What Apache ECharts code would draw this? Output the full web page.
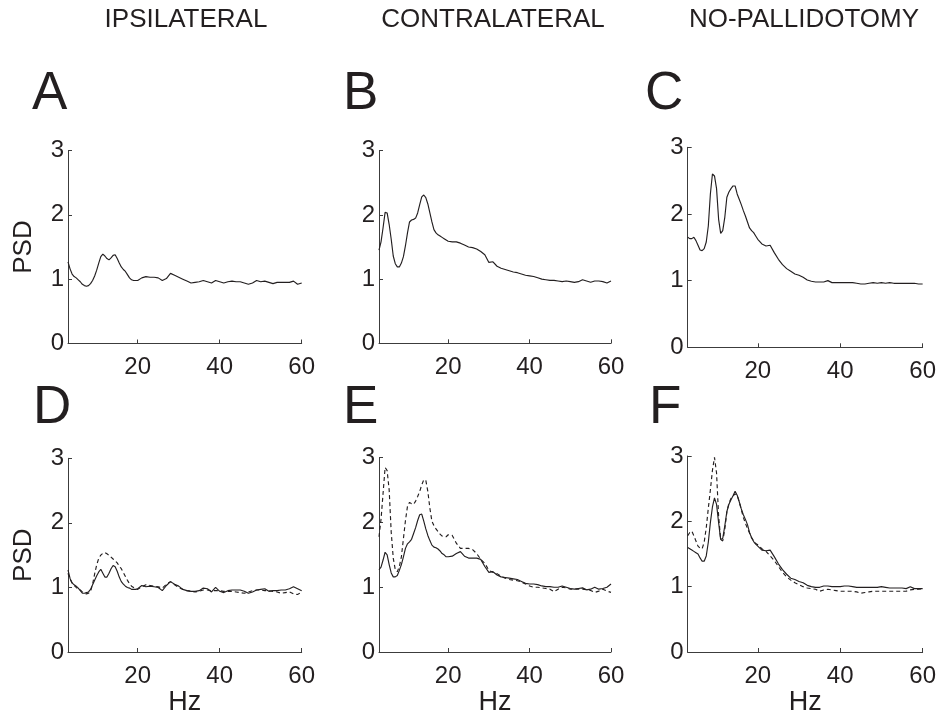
<!DOCTYPE html>
<html>
<head>
<meta charset="utf-8">
<script src="https://cdn.jsdelivr.net/npm/echarts@6/dist/echarts.min.js"></script>
<style>
html,body{margin:0;padding:0;background:#fff;}
#chart{width:939px;height:717px;}
</style>
</head>
<body>
<div id="chart"></div>
<script>
// Frequency grid (Hz)
const hz = [3,3.5,4,4.5,5,5.5,6,6.5,7,7.5,8,8.5,9,9.5,10,10.5,11,11.5,12,12.5,13,13.5,14,14.5,15,15.5,16,16.5,17,17.5,18,18.5,19,19.5,20,
  21,22,23,24,25,26,27,28,29,30,31,32,33,34,35,36,37,38,39,40,41,42,43,44,45,46,47,48,49,50,51,52,53,54,55,56,57,58,59,60];

const columnTitles = ['IPSILATERAL', 'CONTRALATERAL', 'NO-PALLIDOTOMY'];
const panelLetters = ['A', 'B', 'C', 'D', 'E', 'F'];
const xTicks = [20, 40, 60];
const yTicks = [0, 1, 2, 3];

// Panel A (ipsilateral)
const psdA = [1.27,1.16,1.08,1.04,1.02,0.99,0.96,0.92,0.90,0.89,0.90,0.93,0.98,1.05,1.14,1.25,1.35,1.39,1.36,1.32,1.30,1.33,1.37,1.38,1.32,1.25,1.19,1.15,1.12,1.07,1.02,0.99,0.98,0.98,0.98,
  1.02,1.04,1.03,1.03,1.02,0.98,1.01,1.09,1.06,1.03,1.00,0.97,0.94,0.95,0.96,0.98,0.96,0.94,0.98,0.96,0.94,0.96,0.97,0.96,0.96,0.94,0.92,0.94,0.98,0.96,0.97,0.95,0.93,0.95,0.95,0.95,0.95,0.97,0.92,0.94];
// Panel B (contralateral)
const psdB = [1.45,1.58,1.80,2.04,2.03,1.85,1.62,1.36,1.24,1.19,1.19,1.25,1.35,1.52,1.72,1.89,1.92,1.93,1.95,2.03,2.16,2.28,2.31,2.27,2.17,2.03,1.89,1.77,1.72,1.69,1.67,1.65,1.63,1.61,1.59,
  1.58,1.58,1.56,1.53,1.50,1.49,1.47,1.43,1.38,1.26,1.27,1.20,1.17,1.15,1.13,1.11,1.10,1.08,1.06,1.05,1.04,1.02,1.00,0.99,0.98,0.98,0.97,0.96,0.97,0.96,0.95,0.96,0.99,0.97,0.95,0.97,0.97,0.96,0.94,0.97];
// Panel C (no-pallidotomy)
const psdC = [1.65,1.63,1.63,1.65,1.60,1.53,1.46,1.45,1.48,1.58,1.82,2.30,2.60,2.57,2.38,1.92,1.71,1.75,1.95,2.25,2.33,2.38,2.42,2.42,2.30,2.22,2.14,2.05,1.97,1.88,1.79,1.75,1.72,1.67,1.62,
  1.55,1.52,1.53,1.42,1.32,1.24,1.18,1.14,1.10,1.08,1.05,1.01,0.99,0.98,0.98,0.98,1.00,0.97,0.97,0.97,0.97,0.97,0.97,0.96,0.95,0.95,0.96,0.97,0.96,0.97,0.96,0.97,0.96,0.96,0.96,0.96,0.96,0.96,0.95,0.95];
// Panel D (ipsilateral, two conditions)
const psdDSolid = [1.27,1.14,1.07,1.04,1.02,0.99,0.95,0.91,0.91,0.92,0.93,0.97,1.04,1.11,1.18,1.24,1.28,1.22,1.16,1.16,1.22,1.29,1.34,1.32,1.25,1.16,1.09,1.05,1.02,1.00,0.99,0.97,0.97,0.97,0.98,
  1.03,1.01,1.02,1.01,1.00,0.95,1.03,1.09,1.05,1.02,0.97,0.95,0.94,0.94,0.95,0.99,0.98,0.93,1.00,0.94,0.92,0.95,0.96,0.96,0.96,0.94,0.91,0.93,0.96,0.97,0.98,0.94,0.95,0.95,0.96,0.96,0.98,1.01,0.98,0.95];
const psdDDashed = [1.22,1.13,1.07,1.03,1.00,0.98,0.96,0.93,0.91,0.90,0.91,0.94,1.05,1.21,1.35,1.45,1.50,1.53,1.54,1.52,1.50,1.47,1.44,1.41,1.38,1.33,1.29,1.23,1.17,1.11,1.06,1.02,1.00,0.98,0.97,
  1.01,1.04,1.03,1.02,1.01,0.99,1.05,1.09,1.04,1.00,0.97,0.95,0.94,0.93,0.94,0.96,0.96,0.95,0.95,0.95,0.94,0.94,0.94,0.93,0.92,0.91,0.93,0.95,0.96,0.96,0.95,0.95,0.94,0.93,0.91,0.92,0.93,0.90,0.89,0.93];
// Panel E (contralateral, two conditions)
const psdESolid = [1.27,1.31,1.42,1.54,1.50,1.35,1.22,1.16,1.16,1.18,1.26,1.35,1.47,1.60,1.67,1.70,1.74,1.83,1.92,2.03,2.12,2.13,2.02,1.90,1.80,1.72,1.65,1.62,1.61,1.59,1.56,1.52,1.50,1.47,1.47,
  1.48,1.52,1.55,1.48,1.45,1.45,1.45,1.43,1.32,1.23,1.24,1.19,1.16,1.15,1.14,1.13,1.12,1.09,1.06,1.05,1.05,1.04,1.02,1.01,1.01,1.00,1.00,1.02,1.00,0.98,0.97,0.98,0.99,0.96,0.97,1.00,0.97,0.98,1.00,1.05];
const psdEDashed = [1.78,2.05,2.45,2.85,2.80,2.50,1.85,1.45,1.27,1.24,1.32,1.47,1.75,2.03,2.25,2.31,2.29,2.28,2.33,2.40,2.48,2.58,2.66,2.65,2.48,2.22,2.02,1.95,1.90,1.86,1.82,1.79,1.78,1.78,1.81,
  1.80,1.68,1.60,1.60,1.60,1.58,1.52,1.43,1.37,1.26,1.23,1.21,1.17,1.14,1.12,1.11,1.10,1.08,1.05,1.02,1.00,1.00,0.99,0.98,0.97,0.93,0.97,1.00,0.99,0.97,0.97,0.97,0.97,0.96,0.95,0.92,0.94,0.97,0.94,0.92];
// Panel F (no-pallidotomy, two conditions)
const psdFSolid = [1.60,1.58,1.56,1.54,1.52,1.50,1.44,1.39,1.39,1.47,1.68,1.98,2.22,2.36,2.26,1.98,1.72,1.74,1.93,2.15,2.26,2.33,2.39,2.46,2.40,2.30,2.19,2.10,2.03,1.95,1.83,1.75,1.69,1.65,1.62,
  1.56,1.55,1.56,1.46,1.35,1.26,1.19,1.13,1.11,1.08,1.06,1.02,1.00,0.99,0.99,1.01,1.01,1.00,1.00,1.00,1.01,1.01,1.00,0.99,0.99,0.99,0.99,0.99,0.99,1.00,0.99,0.98,0.98,0.98,0.98,0.97,1.00,0.97,0.97,0.97];
const psdFDashed = [1.78,1.83,1.85,1.78,1.70,1.62,1.59,1.58,1.68,1.90,2.20,2.48,2.78,2.98,2.74,2.08,1.72,1.70,1.88,2.14,2.28,2.35,2.39,2.42,2.40,2.30,2.18,2.06,1.97,1.89,1.82,1.75,1.70,1.66,1.64,
  1.58,1.54,1.47,1.40,1.31,1.22,1.15,1.10,1.06,1.03,1.00,0.98,0.97,0.96,0.93,0.95,0.96,0.95,0.94,0.93,0.93,0.93,0.93,0.92,0.90,0.91,0.92,0.93,0.93,0.93,0.93,0.93,0.93,0.93,0.93,0.93,0.95,0.96,0.96,0.97];

// ---- layout ----
const FONT = '"Liberation Sans", Arial, Helvetica, sans-serif';
const INK = '#231f20';
const AXIS = '#3c3c3c';

const gridRects = [
  {left: 68,    top: 150.5, width: 233.7, height: 193},
  {left: 379,   top: 150.7, width: 232,   height: 192.6},
  {left: 687.7, top: 147.3, width: 236,   height: 200},
  {left: 68,    top: 458.3, width: 233.7, height: 194},
  {left: 379,   top: 457.7, width: 232,   height: 194.6},
  {left: 687.7, top: 456,   width: 236.5, height: 198}
];

const panelSeries = [
  [{v: psdA, dash: false}],
  [{v: psdB, dash: false}],
  [{v: psdC, dash: false}],
  [{v: psdDDashed, dash: true}, {v: psdDSolid, dash: false}],
  [{v: psdEDashed, dash: true}, {v: psdESolid, dash: false}],
  [{v: psdFDashed, dash: true}, {v: psdFSolid, dash: false}]
];

const grids = [], xAxes = [], yAxes = [], series = [];
gridRects.forEach((g, i) => {
  grids.push(Object.assign({}, g));
  const bottomRow = i >= 3;
  const firstCol = i % 3 === 0;
  xAxes.push({
    type: 'value', gridIndex: i, min: 3, max: 60,
    name: bottomRow ? 'Hz' : '', nameLocation: 'middle', nameGap: 37,
    nameTextStyle: {fontSize: 27, fontFamily: FONT, color: INK},
    axisLine: {show: true, onZero: false, lineStyle: {color: AXIS, width: 1}},
    axisTick: {show: true, inside: true, length: 4, customValues: xTicks, lineStyle: {color: AXIS}},
    axisLabel: {show: true, customValues: xTicks, fontSize: 24, fontFamily: FONT, color: INK, margin: 12, showMaxLabel: true},
    splitLine: {show: false}
  });
  yAxes.push({
    type: 'value', gridIndex: i, min: 0, max: 3, interval: 1,
    name: firstCol ? 'PSD' : '', nameLocation: 'middle', nameGap: 31,
    nameTextStyle: {fontSize: 26, fontFamily: FONT, color: INK},
    axisLine: {show: true, lineStyle: {color: AXIS, width: 1}},
    axisTick: {show: true, inside: true, length: 4, lineStyle: {color: AXIS}},
    axisLabel: {show: true, fontSize: 24, fontFamily: FONT, color: INK, margin: 4, customValues: yTicks},
    splitLine: {show: false}
  });
  panelSeries[i].forEach(s => {
    series.push({
      type: 'line', xAxisIndex: i, yAxisIndex: i,
      data: hz.map((f, k) => [f, s.v[k]]),
      showSymbol: false, symbol: 'none', smooth: false,
      lineStyle: {color: INK, width: 1.15, type: s.dash ? [4, 3] : 'solid'},
      silent: true, z: s.dash ? 2 : 3
    });
  });
});

const titleX = [186, 493, 804];
const letterPos = [[32, 94], [343, 94], [645, 94], [33, 408], [343, 408], [649, 408]];
const graphics = [];
columnTitles.forEach((t, i) => {
  graphics.push({type: 'text', x: titleX[i], y: 20,
    style: {text: t, fontSize: 26, fontFamily: FONT, fill: INK, align: 'center', verticalAlign: 'middle', textAlign: 'center', textVerticalAlign: 'middle'}});
});
panelLetters.forEach((t, i) => {
  graphics.push({type: 'text', x: letterPos[i][0], y: letterPos[i][1],
    style: {text: t, fontSize: 53, fontFamily: FONT, fill: INK, align: 'left', verticalAlign: 'middle', textAlign: 'left', textVerticalAlign: 'middle'}});
});

const chart = echarts.init(document.getElementById('chart'), null, {renderer: 'canvas'});
chart.setOption({
  animation: false,
  backgroundColor: '#ffffff',
  grid: grids,
  xAxis: xAxes,
  yAxis: yAxes,
  series: series,
  graphic: graphics
});
</script>
</body>
</html>
